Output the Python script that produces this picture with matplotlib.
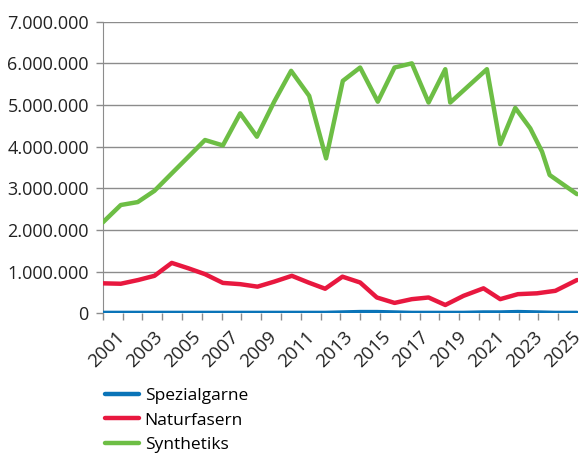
import numpy as np
import matplotlib
matplotlib.use("Agg")
import matplotlib.pyplot as plt
from matplotlib.ticker import FuncFormatter

plt.rcParams['font.family'] = ['Open Sans', 'DejaVu Sans']

# values (x in fractional years, y in millions)
green_x = [2000.0, 2000.95, 2001.84, 2002.72, 2003.59, 2004.51, 2005.38, 2006.32,
           2007.23, 2008.11, 2009.02, 2009.91, 2010.86, 2011.75, 2012.63, 2013.54,
           2014.47, 2015.35, 2016.26, 2017.14, 2018.02, 2018.28, 2020.21, 2020.91,
           2021.70, 2022.49, 2023.11, 2023.51, 2024.95]
synthetiks = [2.18, 2.60, 2.67, 2.94, 3.34, 3.76, 4.16, 4.03, 4.80, 4.24, 5.08, 5.82,
              5.22, 3.72, 5.58, 5.90, 5.08, 5.90, 6.00, 5.06, 5.86, 5.06, 5.86, 4.06,
              4.93, 4.44, 3.88, 3.32, 2.86]

red_x = [2000.0, 2000.95, 2001.87, 2002.72, 2003.63, 2004.51, 2005.38, 2006.32,
         2007.23, 2008.14, 2009.02, 2009.95, 2010.82, 2011.70, 2012.61, 2013.54,
         2014.42, 2015.35, 2016.26, 2017.14, 2018.02, 2018.98, 2020.03, 2020.91,
         2021.84, 2022.84, 2023.81, 2024.95]
naturfasern = [0.72, 0.71, 0.80, 0.90, 1.21, 1.08, 0.94, 0.73, 0.70, 0.64, 0.76, 0.90,
               0.74, 0.59, 0.88, 0.74, 0.38, 0.25, 0.34, 0.38, 0.20, 0.42, 0.60, 0.34,
               0.46, 0.48, 0.54, 0.80]
spezialgarne = [0.01, 0.01, 0.01, 0.01, 0.01, 0.01, 0.01, 0.01, 0.01, 0.01, 0.01, 0.01,
                0.01, 0.01, 0.02, 0.03, 0.03, 0.02, 0.01, 0.01, 0.01, 0.01, 0.02, 0.02,
                0.03, 0.02, 0.01, 0.01]

year_labels = list(range(2001, 2026, 2))

fig = plt.figure(figsize=(5.85, 4.57), dpi=100)
ax = fig.add_axes([0.1756, 0.3144, 0.8124, 0.6381])

ax.plot(red_x, np.array(spezialgarne) * 1e6, color='#0a74b8', lw=3.2, label='Spezialgarne',
        solid_capstyle='round', zorder=3)
ax.plot(red_x, np.array(naturfasern) * 1e6, color='#e8183f', lw=3.2, label='Naturfasern',
        solid_capstyle='round', zorder=3)
ax.plot(green_x, np.array(synthetiks) * 1e6, color='#6dbe45', lw=3.2, label='Synthetiks',
        solid_capstyle='round', zorder=3)

ax.set_xlim(2000, 2025)
ax.set_ylim(0, 7e6)
ax.set_yticks(np.arange(0, 7.01e6, 1e6))
ax.yaxis.set_major_formatter(FuncFormatter(lambda v, p: f"{int(v):,}".replace(",", ".")))
ax.grid(axis='y', color='#8c8c8c', lw=1)
ax.set_axisbelow(True)

ax.set_xticks(year_labels)
ax.set_xticklabels([str(y) for y in year_labels], rotation=45, ha='right',
                   va='center', rotation_mode='anchor')
ax.set_xticks(np.linspace(2000, 2025, 25), minor=True)
ax.tick_params(axis='x', which='major', length=0, pad=15, labelsize=13.5, labelcolor='#222222')
ax.tick_params(axis='x', which='minor', length=5, color='#8c8c8c', width=1)
ax.tick_params(axis='y', length=5, color='#8c8c8c', width=1, labelsize=13,
               labelcolor='#222222', pad=5)

for s in ['top', 'right', 'bottom']:
    ax.spines[s].set_visible(False)
ax.spines['left'].set_color('#8c8c8c')

fig.legend(loc='upper left', bbox_to_anchor=(0.179, 0.152), frameon=False,
           fontsize=12.5, handlelength=2.0, handletextpad=0.3, labelspacing=0.5,
           borderaxespad=0, borderpad=0)

fig.savefig('out.png', dpi=100)
